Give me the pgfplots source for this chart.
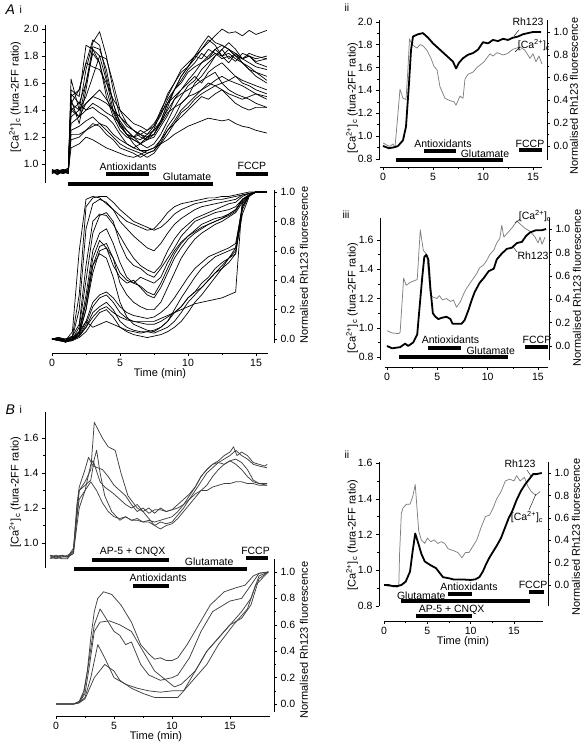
\documentclass[border=0pt]{standalone}
\usepackage{fontspec}
\setmainfont{Liberation Sans}
\usepackage{pgfplots}
\usepackage{pgfplotstable}
\pgfplotsset{compat=1.18}

\newcommand{\tk}{\fontsize{10.5}{11.5}\selectfont}
\newcommand{\lb}{\fontsize{10.5}{12}\selectfont}
\newcommand{\al}{\fontsize{11}{12}\selectfont}
\newcommand{\Ca}{[Ca\textsuperscript{2+}]\textsubscript{c}}

\tikzset{
  bar/.style={line width=3.5pt, black},
  tr/.style={font=\lb, inner sep=0pt},
}
\pgfplotsset{
  base/.style={scale only axis, clip=false, tick align=outside,
    major tick length=3pt, minor tick length=1.6pt,
    every tick/.style={black, line width=0.5pt},
    axis line style={-, line width=0.6pt},
    tick label style={font=\tk},
    /pgf/number format/assume math mode=true,
    yticklabel style={/pgf/number format/fixed, /pgf/number format/fixed zerofill, /pgf/number format/precision=1},
    every axis plot/.append style={line join=round}},
  xonly/.style={base, axis y line=none, axis x line*=bottom, ymin=0, ymax=1, height=2pt,
    xtick={0,5,10,15}, minor x tick num=1},
  lefty/.style={base, axis x line=none, axis y line*=left, minor y tick num=1},
  righty/.style={base, axis x line=none, axis y line*=right, minor y tick num=1,
    ytick={0,0.2,0.4,0.6,0.8,1}},
  many/.style={black, line width=0.7pt},
  few/.style={black!75, line width=0.75pt},
  cal/.style={gray, line width=0.75pt},
  rho/.style={black, line width=1.8pt},
}

% A i, [Ca2+]c traces (rows = cells, columns = time in min)
\pgfplotstableread{
name 0 0.4 0.8 1.2 1.4 2.0 2.5 3.0 3.5 4.0 4.5 5.0 5.5 6.0 6.5 7.0 7.5 8.0 8.5 9.0 9.5 10.0 10.5 11.0 11.5 12.0 12.5 13.0 13.5 14.0 14.5 15.0 15.8
c1 0.95 0.93 0.96 0.94 1.45 1.40 1.70 1.90 1.98 1.80 1.55 1.35 1.28 1.25 1.22 1.20 1.25 1.30 1.42 1.55 1.62 1.70 1.75 1.82 1.78 1.85 1.80 1.75 1.82 1.78 1.80 1.75 1.72
c2 0.94 0.96 0.93 0.95 1.55 1.50 1.88 1.85 1.80 1.62 1.40 1.28 1.22 1.18 1.15 1.12 1.15 1.22 1.32 1.42 1.50 1.58 1.62 1.70 1.75 1.80 1.85 1.78 1.82 1.75 1.70 1.68 1.65
c3 0.95 0.92 0.95 0.97 1.40 1.35 1.60 1.87 1.85 1.70 1.45 1.30 1.22 1.15 1.10 1.08 1.10 1.18 1.28 1.35 1.45 1.50 1.60 1.65 1.72 1.80 1.85 1.90 1.85 1.78 1.82 1.80 1.78
c4 0.93 0.95 0.94 0.96 1.48 1.30 1.55 1.85 1.75 1.50 1.35 1.25 1.20 1.18 1.15 1.20 1.22 1.32 1.45 1.55 1.65 1.72 1.80 1.88 1.95 1.90 1.88 1.85 1.80 1.75 1.70 1.65 1.60
c5 0.96 0.94 0.95 0.93 1.35 1.40 1.50 1.65 1.80 1.78 1.60 1.40 1.30 1.25 1.20 1.18 1.20 1.28 1.36 1.48 1.55 1.62 1.68 1.75 1.80 1.85 1.88 1.85 1.80 1.78 1.75 1.72 1.70
c6 0.95 0.93 0.95 0.94 1.63 1.40 1.45 1.50 1.48 1.45 1.40 1.35 1.30 1.25 1.22 1.25 1.30 1.38 1.45 1.50 1.55 1.60 1.65 1.60 1.68 1.72 1.75 1.70 1.65 1.62 1.60 1.58 1.55
c7 0.94 0.96 0.93 0.95 1.40 1.45 1.40 1.45 1.42 1.38 1.35 1.30 1.25 1.20 1.18 1.22 1.25 1.32 1.40 1.48 1.52 1.55 1.58 1.62 1.65 1.68 1.60 1.55 1.52 1.50 1.48 1.45 1.42
c8 0.95 0.94 0.96 0.95 1.22 1.22 1.25 1.28 1.30 1.28 1.22 1.18 1.15 1.12 1.10 1.10 1.12 1.15 1.18 1.22 1.25 1.28 1.30 1.32 1.34 1.33 1.32 1.33 1.30 1.28 1.27 1.25 1.23
c9 0.93 0.95 0.94 0.96 1.42 1.35 1.45 1.50 1.55 1.48 1.40 1.32 1.25 1.20 1.15 1.18 1.22 1.32 1.45 1.55 1.65 1.72 1.80 1.85 1.90 1.95 2.00 1.97 1.98 1.95 1.99 1.96 1.99
c10 0.95 0.96 0.94 0.93 1.25 1.28 1.32 1.35 1.30 1.25 1.20 1.15 1.12 1.10 1.08 1.05 1.08 1.15 1.22 1.30 1.35 1.40 1.45 1.50 1.48 1.52 1.55 1.50 1.45 1.42 1.40 1.42 1.42
c11 0.94 0.93 0.95 0.97 1.52 1.45 1.60 1.82 1.75 1.55 1.38 1.28 1.22 1.20 1.22 1.18 1.26 1.38 1.52 1.60 1.70 1.75 1.80 1.78 1.85 1.82 1.80 1.82 1.78 1.75 1.72 1.68 1.62
c12 0.95 0.94 0.93 0.95 1.18 1.20 1.25 1.30 1.28 1.22 1.18 1.12 1.10 1.08 1.05 1.08 1.10 1.16 1.25 1.32 1.40 1.45 1.50 1.55 1.60 1.58 1.55 1.52 1.50 1.48 1.50 1.52 1.50
c13 0.96 0.94 0.95 0.94 1.50 1.55 1.75 1.72 1.70 1.60 1.48 1.40 1.35 1.30 1.28 1.25 1.28 1.36 1.48 1.55 1.60 1.68 1.72 1.75 1.78 1.82 1.78 1.80 1.76 1.82 1.80 1.78 1.80
c14 0.94 0.95 0.96 0.93 1.30 1.35 1.40 1.42 1.38 1.35 1.30 1.22 1.15 1.12 1.15 1.20 1.22 1.30 1.38 1.42 1.45 1.50 1.52 1.55 1.58 1.62 1.65 1.62 1.60 1.58 1.55 1.52 1.48
c15 0.95 0.93 0.94 0.96 1.45 1.55 1.75 1.92 1.88 1.65 1.45 1.30 1.22 1.20 1.25 1.22 1.28 1.40 1.50 1.60 1.68 1.72 1.78 1.85 1.92 1.88 1.80 1.85 1.82 1.78 1.80 1.76 1.78
c16 0.94 0.95 0.93 0.95 1.12 1.15 1.20 1.18 1.15 1.12 1.10 1.08 1.06 1.05 1.07 1.10 1.12 1.18 1.25 1.30 1.38 1.42 1.48 1.52 1.55 1.58 1.60 1.62 1.65 1.60 1.58 1.55 1.52
}\AiTraw
\pgfplotstabletranspose[colnames from=name, input colnames to=t]{\AiT}{\AiTraw}

% A i, Rh123 traces
\pgfplotstableread{
name 0 0.5 1.0 1.5 2.0 2.5 3.0 3.5 4.0 4.5 5.0 5.5 6.0 6.5 7.0 7.5 8.0 8.5 9.0 9.5 10.0 10.5 11.0 11.5 12.0 12.5 13.0 13.5 14.0 14.5 15.0 15.8
r1 0 0 -0.01 0.02 0.30 0.90 0.96 0.97 0.97 0.93 0.88 0.84 0.80 0.78 0.76 0.74 0.76 0.80 0.85 0.88 0.90 0.92 0.93 0.94 0.95 0.95 0.96 0.97 0.98 0.99 1.0 1.0
r2 0 0.01 -0.02 0.01 0.20 0.75 0.92 0.95 0.93 0.88 0.80 0.75 0.70 0.66 0.62 0.60 0.65 0.72 0.78 0.82 0.85 0.88 0.90 0.91 0.92 0.93 0.94 0.95 0.98 0.99 1.0 1.0
r3 0 -0.01 0 0.02 0.10 0.50 0.80 0.85 0.84 0.78 0.70 0.62 0.55 0.50 0.47 0.45 0.50 0.60 0.68 0.74 0.78 0.82 0.84 0.86 0.88 0.90 0.92 0.93 0.97 0.99 1.0 1.0
r4 0 0 -0.02 0 0.08 0.40 0.72 0.84 0.86 0.80 0.65 0.55 0.50 0.48 0.44 0.42 0.48 0.55 0.62 0.70 0.75 0.80 0.82 0.84 0.86 0.87 0.88 0.90 0.95 0.98 1.0 1.0
r5 0 0.01 0 -0.01 0.05 0.30 0.60 0.72 0.75 0.65 0.52 0.42 0.38 0.36 0.32 0.30 0.38 0.48 0.58 0.65 0.70 0.74 0.78 0.80 0.82 0.83 0.85 0.88 0.95 0.98 1.0 1.0
r6 0 -0.01 -0.02 0 0.05 0.25 0.55 0.67 0.62 0.50 0.42 0.38 0.40 0.35 0.30 0.28 0.35 0.45 0.55 0.62 0.68 0.72 0.75 0.78 0.80 0.82 0.84 0.87 0.95 0.98 1.0 1.0
r7 0 0 -0.01 0.01 0.04 0.20 0.45 0.60 0.62 0.55 0.45 0.40 0.38 0.42 0.40 0.38 0.42 0.52 0.60 0.66 0.70 0.73 0.76 0.78 0.80 0.82 0.85 0.88 0.94 0.98 1.0 1.0
r8 0 0.01 -0.01 0 0.03 0.20 0.50 0.63 0.65 0.55 0.38 0.30 0.25 0.22 0.20 0.20 0.25 0.35 0.45 0.55 0.62 0.68 0.72 0.75 0.78 0.80 0.83 0.86 0.93 0.98 1.0 1.0
r9 0 -0.01 -0.02 0 0.03 0.12 0.25 0.30 0.32 0.28 0.22 0.18 0.16 0.15 0.14 0.15 0.18 0.22 0.28 0.35 0.42 0.48 0.52 0.56 0.58 0.60 0.62 0.65 0.90 0.98 1.0 1.0
r10 0 0 -0.02 -0.01 0.02 0.10 0.22 0.28 0.30 0.25 0.18 0.14 0.12 0.11 0.10 0.10 0.12 0.15 0.18 0.22 0.28 0.32 0.38 0.42 0.48 0.52 0.55 0.60 0.85 0.97 1.0 1.0
r11 0 0.01 -0.01 0 0.02 0.08 0.18 0.22 0.25 0.20 0.12 0.08 0.06 0.05 0.05 0.04 0.06 0.08 0.12 0.18 0.25 0.30 0.35 0.40 0.45 0.50 0.55 0.58 0.88 0.98 1.0 1.0
r12 0 0 -0.02 -0.01 0.01 0.05 0.12 0.18 0.20 0.15 0.08 0.05 0.03 0.02 0.01 0.02 0.03 0.05 0.08 0.12 0.18 0.25 0.30 0.36 0.42 0.48 0.55 0.62 0.90 0.98 1.0 1.0
r13 0 -0.01 -0.02 0 0.02 0.08 0.15 0.20 0.22 0.18 0.15 0.13 0.12 0.12 0.12 0.12 0.14 0.16 0.18 0.20 0.22 0.24 0.25 0.26 0.27 0.28 0.30 0.32 0.95 0.98 1.0 1.0
r14 0 0 -0.01 0.05 0.60 0.95 0.97 0.96 0.92 0.88 0.84 0.80 0.78 0.76 0.74 0.75 0.80 0.86 0.90 0.92 0.93 0.94 0.95 0.96 0.96 0.97 0.97 0.98 0.99 1.0 1.0 1.0
r15 0 -0.01 0 0.01 0.05 0.25 0.50 0.58 0.55 0.42 0.25 0.15 0.10 0.08 0.06 0.05 0.08 0.12 0.18 0.22 0.28 0.32 0.35 0.40 0.45 0.48 0.52 0.58 0.90 0.98 1.0 1.0
r16 0 0 -0.01 0 0.05 0.12 0.08 0.10 0.12 0.10 0.08 0.06 0.05 0.04 0.05 0.06 0.08 0.12 0.20 0.28 0.35 0.42 0.48 0.52 0.56 0.58 0.60 0.62 0.92 0.98 1.0 1.0
}\AiBraw
\pgfplotstabletranspose[colnames from=name, input colnames to=t]{\AiB}{\AiBraw}

\begin{document}
\begin{tikzpicture}[x=1pt,y=1pt]
\path[use as bounding box] (0,0) rectangle (585,-746);

% ================= A i =================
\begin{axis}[lefty, at={(45pt,-183pt)}, anchor=south west, width=223.2pt, height=158pt,
  xmin=-0.515, xmax=15.9, ymin=0.86, ymax=2.03, ytick={1,1.2,1.4,1.6,1.8,2}]
\pgfplotsinvokeforeach{c1,c2,c3,c4,c5,c6,c7,c8,c9,c10,c11,c12,c13,c14,c15,c16}{
  \addplot[many] table[x=t, y=#1] {\AiT};}
\draw[bar] (axis cs:4.0,0.927) -- (axis cs:7.1,0.927);
\draw[bar] (axis cs:1.2,0.853) -- (axis cs:11.85,0.853);
\draw[bar] (axis cs:13.5,0.927) -- (axis cs:15.9,0.927);
\node[tr] at (axis cs:5.6,0.979) {Antioxidants};
\node[tr] at (axis cs:9.93,0.904) {Glutamate};
\node[tr] at (axis cs:14.7,0.986) {FCCP};
\end{axis}
\begin{axis}[righty, at={(52pt,-343pt)}, anchor=south west, width=222pt, height=153pt,
  xmin=0, xmax=16.32, ymin=-0.027, ymax=1.0136]
\pgfplotsinvokeforeach{r1,r2,r3,r4,r5,r6,r7,r8,r9,r10,r11,r12,r13,r14,r15,r16}{
  \addplot[many] table[x=t, y=#1] {\AiB};}
\end{axis}
\begin{axis}[xonly, at={(52pt,-353pt)}, anchor=south west, width=216pt, xmin=0, xmax=15.88]
\end{axis}
\node[rotate=90, font=\al] at (15,-97) {\Ca{} (fura-2FF ratio)};
\node[rotate=90, font=\al] at (304,-265) {Normalised Rh123 fluorescence};
\node[font=\al] at (160,-374) {Time (min)};
\node[anchor=west, font=\fontsize{14}{16}\selectfont\itshape] at (2,-10) {A};
\node[anchor=west, font=\lb] at (16,-10) {i};

% ================= A ii =================
\begin{axis}[lefty, at={(379pt,-160pt)}, anchor=south west, width=168pt, height=140pt,
  xmin=-0.4, xmax=16.4, ymin=0.79, ymax=2.016, ytick={0.8,1,1.2,1.4,1.6,1.8,2}]
\addplot[cal] coordinates {(0,0.94) (0.4,0.92) (0.7,0.91) (1.0,0.93) (1.2,0.90) (1.4,1.10) (1.7,1.41) (2.0,1.33) (2.3,1.32) (2.5,1.60) (2.65,1.85) (2.9,1.80) (3.4,1.77) (3.7,1.80) (4.0,1.79) (4.4,1.75) (4.8,1.68) (5.1,1.61) (5.4,1.58) (5.7,1.43) (6.2,1.33) (6.7,1.31) (7.1,1.30) (7.3,1.27) (7.7,1.35) (8.0,1.33) (8.2,1.50) (8.5,1.54) (9.0,1.56) (9.4,1.60) (10.1,1.65) (10.7,1.72) (11.0,1.70) (11.4,1.73) (12.0,1.71) (12.4,1.72) (13.0,1.76) (13.7,1.78) (14.2,1.75) (14.7,1.68) (15.0,1.72) (15.3,1.65) (15.6,1.70) (15.9,1.63)};
\draw[bar] (axis cs:4.1,0.869) -- (axis cs:7.3,0.869);
\draw[bar] (axis cs:1.3,0.79) -- (axis cs:12,0.79);
\draw[bar] (axis cs:13.6,0.878) -- (axis cs:15.9,0.878);
\node[tr] at (axis cs:6.0,0.93) {Antioxidants};
\node[tr] at (axis cs:10.2,0.843) {Glutamate};
\node[tr] at (axis cs:14.7,0.93) {FCCP};
\end{axis}
\begin{axis}[righty, at={(379pt,-160pt)}, anchor=south west, width=168pt, height=140pt,
  xmin=-0.4, xmax=16.4, ymin=-0.123, ymax=1.105]
\addplot[rho] coordinates {(0,0.0) (0.6,-0.02) (1.2,-0.01) (1.5,0.0) (2.0,0.05) (2.3,0.17) (2.6,0.55) (2.8,0.84) (3.0,0.96) (3.5,0.98) (4.0,0.99) (4.5,0.95) (5.0,0.90) (6.0,0.82) (7.0,0.74) (7.3,0.68) (7.6,0.73) (8.0,0.77) (8.5,0.80) (9.0,0.815) (9.5,0.845) (10.0,0.91) (10.5,0.90) (11.0,0.93) (11.5,0.92) (12.0,0.94) (12.5,0.93) (13.0,0.95) (13.5,0.96) (14.0,0.98) (14.5,0.99) (15.0,1.0) (15.8,1.0)};
\end{axis}
\begin{axis}[xonly, at={(380pt,-167pt)}, anchor=south west, width=162pt, xmin=-0.3, xmax=15.9]
\end{axis}
\node[rotate=90, font=\al] at (574,-96) {Normalised Rh123 fluorescence};
\node[rotate=90, font=\al] at (352,-98) {\Ca{} (fura-2FF ratio)};
\node[font=\tk] at (528,-22) {Rh123};
\draw[line width=0.4pt] (519,-30) -- (514,-36);
\node[font=\tk] at (534,-45) {\Ca};
\draw[line width=0.4pt] (520,-47) -- (515,-52);
\node[anchor=west, font=\lb] at (341,-8) {ii};

% ================= A iii =================
\begin{axis}[lefty, at={(380pt,-360pt)}, anchor=south west, width=169pt, height=142pt,
  xmin=-0.7, xmax=16.09, ymin=0.78, ymax=1.75, ytick={0.8,1,1.2,1.4,1.6}]
\addplot[cal] coordinates {(0,0.98) (0.5,0.965) (1.15,0.96) (1.3,0.97) (1.65,1.34) (1.9,1.29) (2.3,1.31) (3.0,1.33) (3.3,1.67) (3.6,1.53) (3.95,1.50) (4.3,1.23) (4.55,1.21) (4.95,1.20) (5.2,1.22) (5.5,1.19) (5.9,1.20) (6.3,1.18) (6.6,1.19) (6.9,1.14) (7.3,1.18) (7.6,1.23) (7.9,1.27) (8.2,1.30) (8.6,1.34) (8.9,1.37) (9.2,1.41) (9.6,1.43) (9.9,1.46) (10.2,1.50) (10.6,1.53) (10.9,1.58) (11.2,1.61) (11.4,1.70) (11.6,1.62) (12.0,1.65) (12.5,1.69) (12.9,1.73) (13.2,1.71) (13.7,1.68) (14.2,1.66) (14.7,1.62) (15.0,1.58) (15.2,1.62) (15.4,1.57) (15.7,1.62)};
\draw[bar] (axis cs:4.1,0.862) -- (axis cs:7.3,0.862);
\draw[bar] (axis cs:1.2,0.80) -- (axis cs:12,0.80);
\draw[bar] (axis cs:13.7,0.869) -- (axis cs:16,0.869);
\node[tr] at (axis cs:6.3,0.917) {Antioxidants};
\node[tr] at (axis cs:10.3,0.84) {Glutamate};
\node[tr] at (axis cs:14.9,0.917) {FCCP};
\end{axis}
\begin{axis}[righty, at={(380pt,-360pt)}, anchor=south west, width=169pt, height=142pt,
  xmin=-0.7, xmax=16.09, ymin=-0.12, ymax=1.094]
\addplot[rho] coordinates {(0,0.0) (0.5,-0.02) (1.3,-0.01) (1.8,0.02) (2.1,0.0) (2.6,0.03) (3.0,0.10) (3.2,0.30) (3.5,0.59) (3.7,0.76) (3.9,0.78) (4.1,0.74) (4.3,0.50) (4.55,0.28) (4.8,0.25) (5.1,0.23) (5.4,0.24) (5.9,0.25) (6.3,0.23) (6.5,0.19) (6.9,0.19) (7.4,0.19) (7.7,0.22) (8.1,0.31) (8.4,0.39) (8.7,0.46) (9.2,0.54) (9.6,0.58) (10.1,0.64) (10.6,0.66) (10.9,0.74) (11.4,0.79) (11.9,0.83) (12.4,0.84) (12.9,0.88) (13.4,0.89) (13.8,0.94) (14.2,0.97) (14.8,0.99) (15.4,0.99) (15.8,1.0)};
\end{axis}
\begin{axis}[xonly, at={(385pt,-367pt)}, anchor=south west, width=163pt, xmin=-0.2, xmax=16.0]
\end{axis}
\node[rotate=90, font=\al] at (352,-298) {\Ca{} (fura-2FF ratio)};
\node[rotate=90, font=\al] at (577,-288) {Normalised Rh123 fluorescence};
\node[font=\tk] at (535,-216) {\Ca};
\draw[line width=0.4pt] (520,-219) -- (515,-223);
\node[font=\tk] at (533,-256) {Rh123};
\draw[line width=0.4pt] (517,-252) -- (513,-247);
\node[anchor=west, font=\lb] at (339,-215) {iii};

% ================= B i =================
\begin{axis}[lefty, at={(45pt,-568pt)}, anchor=south west, width=223.3pt, height=156pt,
  xmin=-0.95, xmax=18.3, ymin=0.857, ymax=1.749, ytick={1,1.2,1.4,1.6}]
\addplot[few] coordinates {(-0.5,0.93) (0,0.92) (0.5,0.93) (1.0,0.92) (1.5,0.94) (1.8,1.15) (2.0,1.30) (2.5,1.35) (3.0,1.42) (3.3,1.69) (4.0,1.60) (4.5,1.55) (5.1,1.53) (5.6,1.40) (6.2,1.27) (7.0,1.20) (7.5,1.18) (8.0,1.20) (8.5,1.17) (9.0,1.20) (9.5,1.18) (10.0,1.19) (10.5,1.22) (11.0,1.25) (11.5,1.28) (12.0,1.32) (12.5,1.38) (13.0,1.42) (13.5,1.45) (14.0,1.47) (14.5,1.50) (15.0,1.52) (15.3,1.55) (15.6,1.50) (16.0,1.52) (16.5,1.50) (17.0,1.46) (17.5,1.45) (18.0,1.44) (18.2,1.45)};
\addplot[few] coordinates {(-0.5,0.92) (0,0.93) (0.5,0.92) (1.0,0.93) (1.5,0.95) (1.8,1.20) (2.0,1.30) (2.5,1.33) (3.0,1.36) (3.3,1.48) (3.5,1.53) (3.8,1.40) (4.2,1.27) (4.8,1.18) (5.5,1.13) (6.0,1.15) (6.5,1.13) (7.0,1.14) (7.5,1.12) (8.0,1.12) (8.5,1.10) (9.0,1.12) (9.5,1.11) (10.0,1.12) (10.5,1.16) (11.0,1.20) (11.5,1.25) (12.0,1.30) (12.5,1.35) (13.0,1.40) (13.5,1.43) (14.0,1.46) (14.5,1.48) (15.0,1.50) (15.5,1.53) (16.0,1.50) (16.5,1.48) (17.0,1.45) (17.5,1.44) (18.2,1.43)};
\addplot[few] coordinates {(-0.5,0.91) (0,0.92) (0.5,0.91) (1.0,0.91) (1.5,0.96) (1.8,1.22) (2.0,1.32) (2.5,1.42) (2.8,1.49) (3.2,1.44) (4.0,1.42) (4.5,1.38) (5.0,1.33) (5.5,1.30) (6.0,1.27) (6.5,1.22) (7.0,1.18) (7.5,1.20) (8.0,1.17) (8.5,1.19) (9.0,1.19) (9.5,1.18) (10.0,1.19) (10.5,1.20) (11.0,1.22) (11.5,1.27) (12.0,1.32) (12.5,1.38) (13.0,1.42) (13.5,1.45) (14.0,1.46) (14.5,1.45) (15.0,1.47) (15.5,1.48) (16.0,1.46) (16.5,1.42) (17.0,1.36) (17.5,1.34) (18.2,1.34)};
\addplot[few] coordinates {(-0.5,0.92) (0,0.91) (0.5,0.92) (1.0,0.92) (1.5,0.97) (1.8,1.15) (2.0,1.25) (2.5,1.30) (3.0,1.45) (3.2,1.47) (3.8,1.35) (4.2,1.32) (5.0,1.28) (5.5,1.25) (6.0,1.22) (6.5,1.20) (7.0,1.22) (7.5,1.18) (8.0,1.14) (8.5,1.10) (9.0,1.08) (9.5,1.10) (10.0,1.11) (10.5,1.14) (11.0,1.18) (11.5,1.22) (12.0,1.26) (12.5,1.30) (13.0,1.33) (13.5,1.38) (14.0,1.42) (14.5,1.45) (15.0,1.47) (15.5,1.45) (16.0,1.42) (16.5,1.38) (17.0,1.35) (17.5,1.34) (18.2,1.33)};
\addplot[few] coordinates {(-0.5,0.93) (0,0.92) (0.5,0.93) (1.0,0.92) (1.5,0.94) (1.8,1.10) (2.0,1.20) (2.5,1.30) (3.0,1.35) (3.5,1.30) (4.0,1.23) (4.5,1.18) (5.0,1.15) (5.5,1.14) (6.0,1.15) (6.5,1.13) (7.0,1.13) (7.5,1.12) (8.0,1.13) (8.5,1.12) (9.0,1.13) (9.5,1.14) (10.0,1.15) (10.5,1.18) (11.0,1.22) (11.5,1.25) (12.0,1.28) (12.5,1.30) (13.0,1.30) (13.5,1.32) (14.0,1.33) (14.5,1.34) (15.0,1.34) (15.5,1.35) (16.0,1.35) (16.5,1.34) (17.0,1.34) (17.5,1.33) (18.2,1.33)};
\draw[bar] (axis cs:3.1,0.903) -- (axis cs:9.7,0.903);
\draw[bar] (axis cs:1.55,0.851) -- (axis cs:16.5,0.851);
\draw[bar] (axis cs:16.4,0.914) -- (axis cs:18.3,0.914);
\draw[bar] (axis cs:6.6,0.754) -- (axis cs:9.7,0.754);
\node[tr] at (axis cs:6.6,0.948) {AP-5 + CNQX};
\node[tr] at (axis cs:13.2,0.891) {Glutamate};
\node[tr] at (axis cs:17.2,0.954) {FCCP};
\node[tr] at (axis cs:8.8,0.80) {Antioxidants};
\end{axis}
\begin{axis}[righty, at={(56pt,-712pt)}, anchor=south west, width=218pt, height=153pt,
  xmin=0, xmax=18.79, ymin=-0.06, ymax=1.098]
\addplot[few] coordinates {(0,0) (1.5,0) (2.0,0.02) (2.4,0.1) (2.7,0.25) (3.0,0.5) (3.3,0.7) (3.6,0.8) (4.1,0.85) (4.8,0.83) (5.6,0.75) (6.5,0.62) (7.3,0.45) (8.0,0.38) (8.5,0.34) (9.0,0.35) (9.5,0.33) (10.0,0.33) (10.5,0.35) (11.3,0.45) (12.3,0.6) (13.3,0.75) (14.5,0.85) (15.5,0.88) (16.3,0.90) (17.0,0.97) (17.5,0.99) (18.3,1.0)};
\addplot[few] coordinates {(0,0) (1.5,0) (2.0,0.02) (2.4,0.08) (2.8,0.3) (3.3,0.6) (3.8,0.72) (4.3,0.65) (5.0,0.55) (5.5,0.52) (6.0,0.45) (6.5,0.47) (7.3,0.30) (8.0,0.22) (9.0,0.18) (10.0,0.20) (10.5,0.22) (11.5,0.35) (12.5,0.55) (13.5,0.70) (15.0,0.78) (16.0,0.80) (16.8,0.90) (17.5,0.99) (18.3,1.0)};
\addplot[few] coordinates {(0,0) (1.5,0) (2.0,0.01) (2.5,0.08) (2.9,0.3) (3.3,0.55) (3.8,0.62) (4.6,0.63) (5.5,0.60) (6.5,0.55) (7.5,0.40) (8.5,0.25) (9.5,0.18) (10.2,0.13) (10.8,0.15) (12.0,0.25) (13.0,0.40) (14.5,0.55) (16.0,0.70) (16.8,0.80) (17.5,0.97) (18.3,1.0)};
\addplot[few] coordinates {(0,0) (1.5,0) (2.0,0.01) (2.5,0.05) (3.0,0.2) (3.6,0.45) (4.2,0.35) (5.0,0.20) (6.0,0.15) (7.0,0.12) (8.0,0.10) (9.0,0.09) (10.0,0.10) (11.0,0.10) (12.0,0.25) (13.0,0.40) (14.0,0.50) (15.0,0.60) (16.0,0.65) (16.8,0.75) (17.5,0.95) (18.3,1.0)};
\addplot[few] coordinates {(0,0) (1.5,0) (2.0,0.01) (2.5,0.04) (3.3,0.2) (4.2,0.30) (5.0,0.25) (5.5,0.18) (6.5,0.12) (7.5,0.08) (8.5,0.05) (9.5,0.05) (10.5,0.05) (11.0,0.10) (12.0,0.20) (13.0,0.30) (14.0,0.45) (15.3,0.60) (16.5,0.72) (17.2,0.90) (18.3,1.0)};
\end{axis}
\begin{axis}[xonly, at={(56pt,-716pt)}, anchor=south west, width=214pt, xmin=0, xmax=18.45]
\end{axis}
\node[rotate=90, font=\al] at (15,-492) {\Ca{} (fura-2FF ratio)};
\node[rotate=90, font=\al] at (304,-640) {Normalised Rh123 fluorescence};
\node[font=\al] at (156,-737) {Time (min)};
\node[anchor=west, font=\fontsize{14}{16}\selectfont\itshape] at (2,-410) {B};
\node[anchor=west, font=\lb] at (16,-410) {i};

% ================= B ii =================
\begin{axis}[lefty, at={(379pt,-606pt)}, anchor=south west, width=169pt, height=144pt,
  xmin=-0.58, xmax=18.92, ymin=0.8, ymax=1.606, ytick={0.8,1,1.2,1.4,1.6}]
\addplot[cal] coordinates {(0,0.92) (0.5,0.91) (1.0,0.915) (1.5,0.905) (1.7,0.91) (1.8,1.10) (2.0,1.32) (2.2,1.35) (2.6,1.37) (3.0,1.37) (3.3,1.41) (3.6,1.48) (3.8,1.35) (4.0,1.22) (4.3,1.17) (4.7,1.15) (5.0,1.18) (5.4,1.16) (5.8,1.17) (6.2,1.15) (6.6,1.16) (7.0,1.15) (7.4,1.12) (8.0,1.11) (8.5,1.10) (9.0,1.07) (9.4,1.10) (9.8,1.10) (10.2,1.13) (10.7,1.17) (11.2,1.24) (11.7,1.30) (12.2,1.31) (12.6,1.35) (13.0,1.40) (13.5,1.44) (14.0,1.50) (14.5,1.51) (15.0,1.50) (15.3,1.53) (15.7,1.50) (16.2,1.52) (16.6,1.47) (17.0,1.44) (17.5,1.42) (18.0,1.44)};
\draw[bar] (axis cs:7.4,0.867) -- (axis cs:10.1,0.867);
\draw[bar] (axis cs:2.0,0.828) -- (axis cs:16.8,0.828);
\draw[bar] (axis cs:3.7,0.744) -- (axis cs:10.1,0.744);
\draw[bar] (axis cs:16.7,0.878) -- (axis cs:18.4,0.878);
\node[tr] at (axis cs:9.8,0.906) {Antioxidants};
\node[tr] at (axis cs:4.3,0.856) {Glutamate};
\node[tr] at (axis cs:7.8,0.778) {AP-5 + CNQX};
\node[tr] at (axis cs:17.2,0.917) {FCCP};
\end{axis}
\begin{axis}[righty, at={(379pt,-606pt)}, anchor=south west, width=169pt, height=144pt,
  xmin=-0.58, xmax=18.92, ymin=-0.1875, ymax=1.098]
\addplot[rho] coordinates {(0,0.0) (0.5,0.0) (1.0,-0.01) (1.5,-0.01) (2.0,0.0) (2.5,0.03) (3.0,0.12) (3.3,0.30) (3.6,0.46) (4.0,0.36) (4.3,0.28) (4.7,0.21) (5.3,0.18) (6.0,0.15) (6.5,0.10) (6.8,0.07) (7.5,0.06) (8.0,0.05) (9.0,0.05) (10.0,0.045) (10.5,0.05) (11.0,0.07) (11.4,0.12) (11.8,0.19) (12.2,0.25) (12.6,0.30) (13.0,0.35) (13.5,0.42) (14.0,0.52) (14.4,0.60) (14.8,0.66) (15.3,0.76) (15.8,0.84) (16.3,0.90) (16.6,0.93) (17.2,0.99) (17.6,0.99) (18.2,1.0)};
\end{axis}
\begin{axis}[xonly, at={(384pt,-621pt)}, anchor=south west, width=159pt, xmin=0, xmax=18.35]
\end{axis}
\node[rotate=90, font=\al] at (352,-535) {\Ca{} (fura-2FF ratio)};
\node[rotate=90, font=\al] at (576,-537) {Normalised Rh123 fluorescence};
\node[font=\al] at (463,-642) {Time (min)};
\node[font=\tk] at (520,-464) {Rh123};
\draw[line width=0.4pt] (527,-470) -- (531,-476);
\node[font=\tk] at (527,-517) {\Ca};
\draw[line width=0.4pt] (529,-510) -- (536,-494);
\node[anchor=west, font=\lb] at (341,-455) {ii};
\end{tikzpicture}
\end{document}
